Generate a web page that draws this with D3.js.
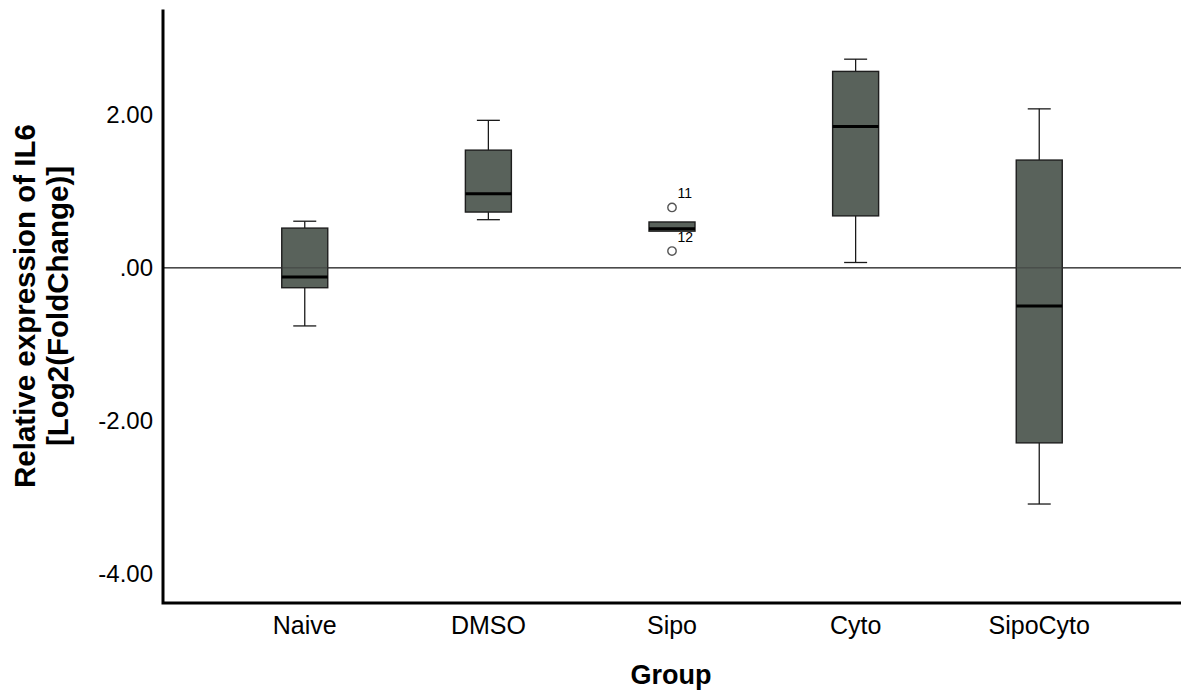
<!DOCTYPE html>
<html>
<head>
<meta charset="utf-8">
<script src="https://cdn.jsdelivr.net/npm/d3@7"></script>
<style>
  html, body { margin: 0; padding: 0; background: #fff; }
  svg { display: block; font-family: "Liberation Sans", Arial, sans-serif; }
</style>
</head>
<body>
<svg id="chart" width="1181" height="693"></svg>
<script>
// values (log2 fold change)
const groups = ["Naive", "DMSO", "Sipo", "Cyto", "SipoCyto"];
const whiskerLow = [-0.76, 0.63, 0.48, 0.07, -3.09];
const q1 = [-0.26, 0.73, 0.48, 0.68, -2.29];
const medians = [-0.12, 0.97, 0.51, 1.85, -0.50];
const q3 = [0.52, 1.54, 0.60, 2.57, 1.41];
const whiskerHigh = [0.61, 1.93, 0.60, 2.73, 2.08];
const outliers = [
  { group: "Sipo", value: 0.79, label: "11" },
  { group: "Sipo", value: 0.22, label: "12" },
];
const yTicks = [-4, -2, 0, 2];

const svg = d3.select("#chart");
const plot = { left: 163, right: 1181, top: 9.5, bottom: 603 };

const x = d3.scalePoint()
  .domain(groups)
  .range([plot.left, plot.right])
  .padding(0.772);

const y = d3.scaleLinear()
  .domain([-4.385, 3.38])
  .range([plot.bottom, plot.top]);

const boxWidth = 46;
const capWidth = 23;

const boxes = groups.map((g, i) => ({
  group: g,
  lo: whiskerLow[i],
  q1: q1[i],
  med: medians[i],
  q3: q3[i],
  hi: whiskerHigh[i],
}));

// zero reference line
svg.append("line")
  .attr("x1", plot.left).attr("x2", plot.right)
  .attr("y1", y(0)).attr("y2", y(0))
  .attr("stroke", "#5a5a5a")
  .attr("stroke-width", 1.5);

const g = svg.append("g").selectAll("g")
  .data(boxes)
  .enter()
  .append("g")
  .attr("transform", (d) => `translate(${x(d.group)},0)`);

// whiskers
g.filter((d) => d.hi > d.q3).append("line")
  .attr("y1", (d) => y(d.q3)).attr("y2", (d) => y(d.hi))
  .attr("stroke", "#1a1a1a").attr("stroke-width", 1.3);
g.filter((d) => d.hi > d.q3).append("line")
  .attr("x1", -capWidth / 2).attr("x2", capWidth / 2)
  .attr("y1", (d) => y(d.hi)).attr("y2", (d) => y(d.hi))
  .attr("stroke", "#1a1a1a").attr("stroke-width", 1.3);
g.filter((d) => d.lo < d.q1).append("line")
  .attr("y1", (d) => y(d.q1)).attr("y2", (d) => y(d.lo))
  .attr("stroke", "#1a1a1a").attr("stroke-width", 1.3);
g.filter((d) => d.lo < d.q1).append("line")
  .attr("x1", -capWidth / 2).attr("x2", capWidth / 2)
  .attr("y1", (d) => y(d.lo)).attr("y2", (d) => y(d.lo))
  .attr("stroke", "#1a1a1a").attr("stroke-width", 1.3);

// boxes
g.append("rect")
  .attr("x", -boxWidth / 2)
  .attr("width", boxWidth)
  .attr("y", (d) => y(d.q3))
  .attr("height", (d) => y(d.q1) - y(d.q3))
  .attr("fill", "#59625b")
  .attr("stroke", "#1e1e1e")
  .attr("stroke-width", 1.4);

// zero line shows faintly through the boxes in the reference
svg.append("line")
  .attr("x1", plot.left).attr("x2", plot.right)
  .attr("y1", y(0)).attr("y2", y(0))
  .attr("stroke", "#3a3a3a")
  .attr("stroke-opacity", 0.5)
  .attr("stroke-width", 1.5);

// medians
g.append("line")
  .attr("x1", -boxWidth / 2).attr("x2", boxWidth / 2)
  .attr("y1", (d) => y(d.med)).attr("y2", (d) => y(d.med))
  .attr("stroke", "#000")
  .attr("stroke-width", 3);

// outliers
const out = svg.append("g").selectAll("g")
  .data(outliers)
  .enter()
  .append("g")
  .attr("transform", (d) => `translate(${x(d.group)},${y(d.value)})`);
out.append("circle")
  .attr("r", 4.2)
  .attr("fill", "#fff")
  .attr("stroke", "#555")
  .attr("stroke-width", 1.4);
out.append("text")
  .attr("x", 5.5)
  .attr("y", -9)
  .attr("font-size", 14)
  .attr("fill", "#000")
  .text((d) => d.label);

// axes
const fmt = (v) => v.toFixed(2).replace(/^0\./, ".");
svg.append("g")
  .selectAll("text")
  .data(yTicks)
  .enter()
  .append("text")
  .attr("x", 153)
  .attr("y", (d) => y(d))
  .attr("dy", "0.35em")
  .attr("text-anchor", "end")
  .attr("font-size", 24)
  .attr("fill", "#000")
  .text(fmt);

svg.append("g")
  .selectAll("text")
  .data(groups)
  .enter()
  .append("text")
  .attr("x", (d) => x(d))
  .attr("y", 634)
  .attr("text-anchor", "middle")
  .attr("font-size", 25)
  .attr("fill", "#000")
  .text((d) => d);

svg.append("path")
  .attr("d", `M${plot.left},${plot.top}V${plot.bottom}H${plot.right}`)
  .attr("fill", "none")
  .attr("stroke", "#000")
  .attr("stroke-width", 3);

// titles
svg.append("text")
  .attr("x", 671)
  .attr("y", 684)
  .attr("text-anchor", "middle")
  .attr("font-size", 27)
  .attr("font-weight", "bold")
  .text("Group");

const yTitle = svg.append("text")
  .attr("transform", "translate(0,306) rotate(-90)")
  .attr("text-anchor", "middle")
  .attr("font-size", 29.5)
  .attr("font-weight", "bold");
yTitle.append("tspan").attr("x", 0).attr("y", 35).text("Relative expression of IL6");
yTitle.append("tspan").attr("x", 0).attr("y", 68).text("[Log2(FoldChange)]");
</script>
</body>
</html>
